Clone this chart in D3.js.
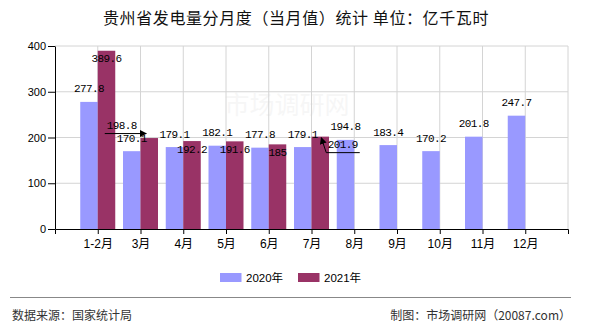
<!DOCTYPE html>
<html>
<head>
<meta charset="utf-8">
<script src="https://cdn.jsdelivr.net/npm/d3@7"></script>
<style>
  body { margin: 0; background: #fff; }
  svg { display: block; }
</style>
</head>
<body>
<script>
"use strict";
// chart data
const months = ["1-2月", "3月", "4月", "5月", "6月", "7月", "8月", "9月", "10月", "11月", "12月"];
const values2020 = [277.8, 170.1, 179.1, 182.1, 177.8, 179.1, 194.8, 183.4, 170.2, 201.8, 247.7];
const values2021 = [389.6, 198.8, 192.2, 191.6, 185, 201.9];
const seriesNames = ["2020年", "2021年"];
const yTicks = [0, 100, 200, 300, 400];

const colors = ["#9999FF", "#993366"];
const W = 590, H = 330;
const plot = { left: 55, right: 568, top: 46, bottom: 229 };
const barW = 17.5;
const labelFont = "'Liberation Mono', 'DejaVu Sans Mono', monospace";
const cjk = "'Liberation Sans', 'Noto Sans CJK SC', sans-serif";

// labels that were dragged off their bars in the original (offsets from bar top centre)
const movedLabels = {
    "3月": { dx: -27.5, dy: -12, arrow: "h" },
    "7月": { dx: 22.5, dy: 8.5, arrow: "v" }
};

const svg = d3.select("body").append("svg")
    .attr("width", W)
    .attr("height", H);

svg.append("defs").append("marker")
    .attr("id", "arrow")
    .attr("viewBox", "0 0 10 10")
    .attr("refX", 9).attr("refY", 5)
    .attr("markerWidth", 7).attr("markerHeight", 7)
    .attr("orient", "auto-start-reverse")
    .append("path")
    .attr("d", "M0,0 L10,5 L0,10 z")
    .attr("fill", "#000");

const x = d3.scalePoint()
    .domain(months)
    .range([plot.left, plot.right])
    .padding(1);

const y = d3.scaleLinear()
    .domain([0, 400])
    .range([plot.bottom, plot.top]);

// title
svg.append("text")
    .attr("x", 296)
    .attr("y", 24)
    .attr("text-anchor", "middle")
    .style("font-family", "'Noto Sans CJK SC', sans-serif")
    .style("font-size", "16px")
    .style("letter-spacing", "0.6px")
    .attr("fill", "#111")
    .text("贵州省发电量分月度（当月值）统计  单位：亿千瓦时");

// watermark
svg.append("text")
    .attr("x", 287).attr("y", 114)
    .attr("text-anchor", "middle")
    .style("font-family", "'Noto Sans CJK SC', sans-serif")
    .style("font-size", "25px")
    .attr("fill", "#000").attr("opacity", 0.03)
    .text("市场调研网");

// grid
const grid = svg.append("g");
grid.selectAll("line.h")
    .data(yTicks.filter(d => d > 0))
    .enter().append("line")
    .attr("x1", plot.left).attr("x2", plot.right)
    .attr("y1", d => y(d)).attr("y2", d => y(d))
    .attr("stroke", "#d4d4d4");
grid.selectAll("line.v")
    .data(months)
    .enter().append("line")
    .attr("x1", d => x(d)).attr("x2", d => x(d))
    .attr("y1", plot.top).attr("y2", plot.bottom)
    .attr("stroke", "#d4d4d4");
grid.append("line")
    .attr("x1", plot.right).attr("x2", plot.right)
    .attr("y1", plot.top).attr("y2", plot.bottom)
    .attr("stroke", "#d4d4d4");

// bars
const series = [values2020, values2021];
series.forEach((vals, si) => {
    svg.append("g").selectAll("rect")
        .data(vals)
        .enter().append("rect")
        .attr("x", (d, i) => x(months[i]) + (si === 0 ? -barW : 0))
        .attr("y", d => y(d))
        .attr("width", barW)
        .attr("height", d => plot.bottom - y(d))
        .attr("fill", colors[si]);
});

// axes
const xAxis = d3.axisBottom(x).tickSize(5).tickSizeOuter(5);
const gx = svg.append("g")
    .attr("transform", `translate(0,${plot.bottom})`)
    .call(xAxis);
gx.selectAll("text")
    .style("font-family", cjk)
    .style("font-size", "12px")
    .attr("fill", "#000")
    .attr("dy", "0.9em");

const yAxis = d3.axisLeft(y).tickValues(yTicks).tickSize(7).tickSizeOuter(0);
const gy = svg.append("g")
    .attr("transform", `translate(${plot.left},0)`)
    .call(yAxis);
gy.selectAll("text")
    .style("font-family", cjk)
    .style("font-size", "11px")
    .attr("fill", "#000")
    .attr("x", -9);
svg.selectAll(".domain, .tick line").attr("stroke", "#000");

// value labels
const labels = svg.append("g")
    .style("font-family", labelFont)
    .style("font-size", "11px")
    .style("letter-spacing", "-0.6px")
    .attr("fill", "#000");

values2020.forEach((v, i) => {
    labels.append("text")
        .attr("x", x(months[i]) - barW / 2)
        .attr("y", y(v) - 12.5)
        .attr("text-anchor", "middle")
        .attr("dominant-baseline", "central")
        .text(v);
});

values2021.forEach((v, i) => {
    const m = months[i];
    const cx = x(m) + barW / 2;
    const top = y(v);
    const mv = movedLabels[m];
    if (!mv) {
        labels.append("text")
            .attr("x", cx).attr("y", top + 8.5)
            .attr("text-anchor", "middle")
            .attr("dominant-baseline", "central")
            .text(v);
        return;
    }
    const lx = cx + mv.dx, ly = top + mv.dy;
    labels.append("text")
        .attr("x", lx).attr("y", ly)
        .attr("text-anchor", "middle")
        .attr("dominant-baseline", "central")
        .text(v);
    let d;
    if (mv.arrow === "h") {
        d = `M${lx - 17},${ly + 7.5} L${cx - 3},${ly + 7.5}`;
    } else {
        d = `M${lx + 17},${ly + 7.5} L${cx + 6},${ly + 7.5} L${cx + 1},${top + 1}`;
    }
    svg.append("path")
        .attr("d", d)
        .attr("fill", "none")
        .attr("stroke", "#000")
        .attr("stroke-width", 1)
        .attr("marker-end", "url(#arrow)");
});

// legend
const legend = svg.append("g");
const legendX = [220, 298];
seriesNames.forEach((name, i) => {
    legend.append("rect")
        .attr("x", legendX[i]).attr("y", 273)
        .attr("width", 21.5).attr("height", 9)
        .attr("fill", colors[i]);
    legend.append("text")
        .attr("x", legendX[i] + 26).attr("y", 281.5)
        .style("font-family", cjk)
        .style("font-size", "11.5px")
        .attr("fill", "#000")
        .text(name);
});

// footer
svg.append("line")
    .attr("x1", 10).attr("x2", 571)
    .attr("y1", 297.5).attr("y2", 297.5)
    .attr("stroke", "#888");
svg.append("text")
    .attr("x", 12).attr("y", 320)
    .style("font-family", "'Noto Sans CJK SC', sans-serif")
    .style("font-size", "12px")
    .attr("fill", "#333")
    .text("数据来源：国家统计局");
svg.append("text")
    .attr("x", 571).attr("y", 320)
    .attr("text-anchor", "end")
    .style("font-family", "'Noto Sans CJK SC', sans-serif")
    .style("font-size", "12px")
    .attr("fill", "#333")
    .text("制图：市场调研网（20087.com）");
</script>
</body>
</html>
